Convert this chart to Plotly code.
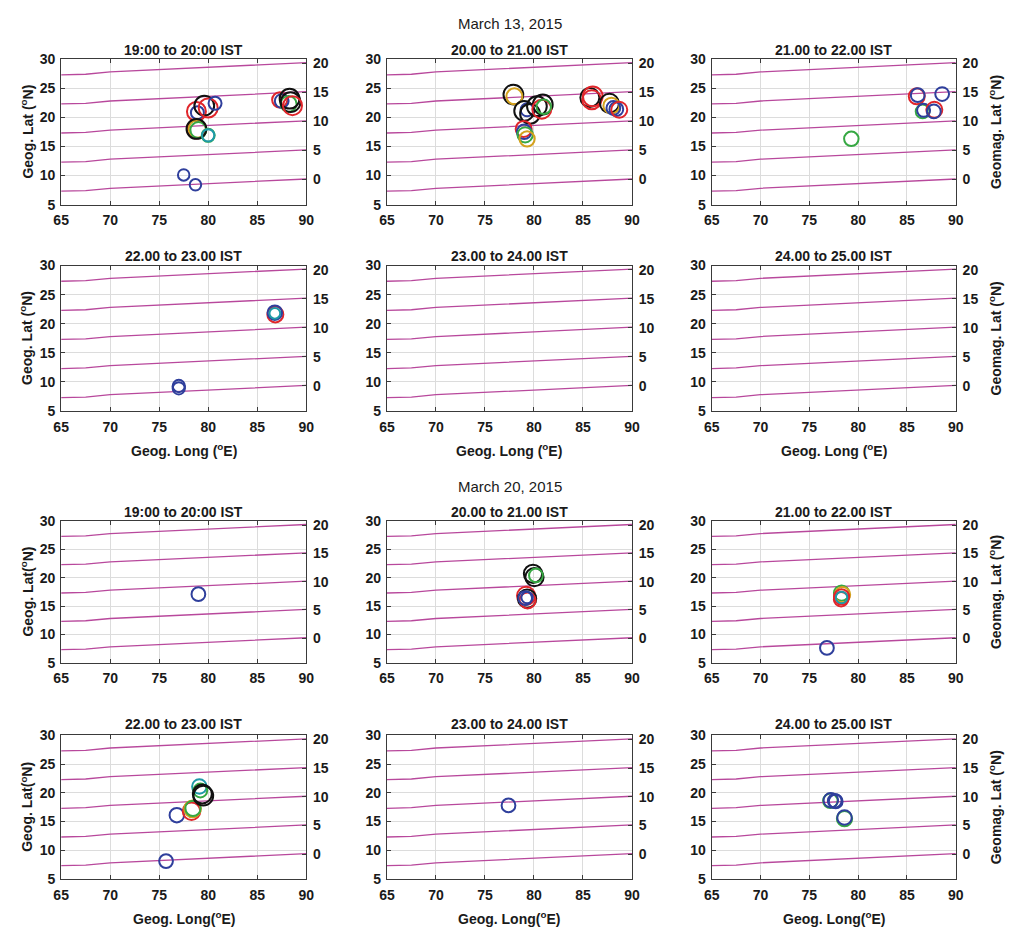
import plotly.graph_objects as go

# ---------------- data ----------------
# Geomagnetic latitude contours (drawn in geographic coordinates)
contour_lon = [65, 67.5, 70, 72.5, 75, 77.5, 80, 82.5, 85, 87.5, 90]
contour_offset = [7.3, 7.4, 7.8, 8.0, 8.3, 8.5, 8.7, 8.9, 9.1, 9.2, 9.4]  # geog lat of geomag 0
geomag_levels = [0, 5, 10, 15, 20]
geomag_axis_offset = 9.3  # geog lat corresponding to geomag 0 at the right edge

x_ticks = [65, 70, 75, 80, 85, 90]
y_ticks = [5, 10, 15, 20, 25, 30]
y2_ticks = [0, 5, 10, 15, 20]

panel_titles = ["19:00 to 20:00 IST", "20.00 to 21.00 IST", "21.00 to 22.00 IST",
                "22.00 to 23.00 IST", "23.00 to 24.00 IST", "24.00 to 25.00 IST"]
date_titles = ["March 13, 2015", "March 20, 2015"]

# Scintillation patches per panel: lon, lat, satellite group, S4
m13_h19_lon = [77.5, 78.7, 78.9, 78.8, 79.6, 80.0, 80.7, 78.8, 78.9, 79.0, 78.8, 80.0, 80.0, 87.3, 87.5, 88.2, 88.3, 88.4, 88.6]
m13_h19_lat = [10.1, 8.4, 20.8, 21.0, 22.0, 21.6, 22.4, 18.0, 18.0, 17.8, 18.0, 16.9, 16.9, 23.0, 22.8, 22.3, 23.2, 22.6, 22.0]
m13_h19_sat = ["B", "B", "B", "R", "K", "R", "B", "R", "Y", "G", "K", "G", "C", "R", "B", "G", "K", "K", "R"]
m13_h19_s4 = [0.3, 0.3, 0.4, 0.8, 0.85, 0.8, 0.4, 0.8, 0.7, 0.6, 0.85, 0.4, 0.35, 0.55, 0.45, 0.6, 0.85, 0.85, 0.8]

m13_h20_lon = [77.9, 78.0, 79.0, 79.3, 79.6, 80.3, 80.9, 80.8, 81.0, 78.95, 79.0, 79.1, 79.3, 85.7, 85.9, 86.0, 87.7, 87.9, 88.1, 88.4, 88.7]
m13_h20_lat = [23.9, 23.6, 21.1, 21.3, 20.6, 21.9, 22.2, 21.4, 21.8, 18.0, 17.5, 17.0, 16.3, 23.4, 23.0, 23.6, 22.4, 22.0, 21.6, 21.4, 21.3]
m13_h20_sat = ["K", "Y", "K", "B", "K", "K", "K", "R", "G", "R", "B", "G", "Y", "K", "R", "R", "K", "Y", "B", "B", "R"]
m13_h20_s4 = [0.85, 0.6, 0.85, 0.4, 0.85, 0.85, 0.85, 0.8, 0.5, 0.6, 0.5, 0.55, 0.55, 0.8, 0.8, 0.85, 0.8, 0.6, 0.45, 0.45, 0.6]

m13_h21_lon = [86.0, 86.1, 88.6, 86.6, 86.7, 87.8, 87.75, 79.3]
m13_h21_lat = [23.6, 23.8, 24.0, 21.0, 21.2, 21.3, 21.0, 16.3]
m13_h21_sat = ["R", "B", "B", "G", "B", "R", "B", "G"]
m13_h21_s4 = [0.6, 0.45, 0.45, 0.45, 0.4, 0.6, 0.45, 0.5]

m13_h22_lon = [86.85, 86.8, 86.8, 77.0, 77.0]
m13_h22_lat = [21.6, 21.9, 21.8, 9.3, 8.9]
m13_h22_sat = ["R", "B", "C", "B", "B"]
m13_h22_s4 = [0.6, 0.5, 0.25, 0.35, 0.35]

m13_h23_lon, m13_h23_lat, m13_h23_sat, m13_h23_s4 = [], [], [], []
m13_h24_lon, m13_h24_lat, m13_h24_sat, m13_h24_s4 = [], [], [], []

m20_h19_lon = [79.0]
m20_h19_lat = [17.1]
m20_h19_sat = ["B"]
m20_h19_s4 = [0.45]

m20_h20_lon = [79.9, 80.05, 80.2, 79.2, 79.3, 79.35, 79.1, 79.3]
m20_h20_lat = [20.7, 20.1, 20.4, 16.8, 16.3, 16.0, 16.4, 16.5]
m20_h20_sat = ["K", "K", "G", "R", "K", "R", "B", "B"]
m20_h20_s4 = [0.75, 0.75, 0.45, 0.75, 0.75, 0.6, 0.45, 0.3]

m20_h21_lon = [78.3, 78.4, 78.3, 78.25, 78.3, 76.8]
m20_h21_lat = [17.3, 17.0, 16.6, 16.2, 16.5, 7.6]
m20_h21_sat = ["G", "Y", "R", "R", "C", "B"]
m20_h21_s4 = [0.55, 0.55, 0.55, 0.5, 0.3, 0.45]

m20_h22_lon = [75.7, 76.8, 78.3, 78.4, 78.45, 79.1, 79.2, 79.4, 79.5]
m20_h22_lat = [8.1, 16.1, 16.8, 17.2, 17.3, 21.1, 20.4, 19.8, 19.5]
m20_h22_sat = ["B", "B", "R", "Y", "G", "C", "G", "K", "K"]
m20_h22_s4 = [0.45, 0.5, 0.7, 0.65, 0.55, 0.5, 0.45, 0.8, 0.85]

m20_h23_lon = [77.4]
m20_h23_lat = [17.8]
m20_h23_sat = ["B"]
m20_h23_s4 = [0.45]

m20_h24_lon = [77.15, 77.2, 77.6, 77.7, 78.6, 78.6]
m20_h24_lat = [18.6, 18.7, 18.6, 18.5, 15.5, 15.7]
m20_h24_sat = ["G", "B", "B", "B", "G", "B"]
m20_h24_s4 = [0.5, 0.5, 0.45, 0.45, 0.55, 0.5]

panels = [
    (m13_h19_lon, m13_h19_lat, m13_h19_sat, m13_h19_s4),
    (m13_h20_lon, m13_h20_lat, m13_h20_sat, m13_h20_s4),
    (m13_h21_lon, m13_h21_lat, m13_h21_sat, m13_h21_s4),
    (m13_h22_lon, m13_h22_lat, m13_h22_sat, m13_h22_s4),
    (m13_h23_lon, m13_h23_lat, m13_h23_sat, m13_h23_s4),
    (m13_h24_lon, m13_h24_lat, m13_h24_sat, m13_h24_s4),
    (m20_h19_lon, m20_h19_lat, m20_h19_sat, m20_h19_s4),
    (m20_h20_lon, m20_h20_lat, m20_h20_sat, m20_h20_s4),
    (m20_h21_lon, m20_h21_lat, m20_h21_sat, m20_h21_s4),
    (m20_h22_lon, m20_h22_lat, m20_h22_sat, m20_h22_s4),
    (m20_h23_lon, m20_h23_lat, m20_h23_sat, m20_h23_s4),
    (m20_h24_lon, m20_h24_lat, m20_h24_sat, m20_h24_s4),
]

# ---------------- style ----------------
SAT_COLORS = {"B": "#2f3f9c", "R": "#e0262b", "G": "#36a843", "K": "#111111",
              "Y": "#d4a21e", "C": "#1e9aa8"}
LINE_COLOR = "#b8489c"
W, H = 1014, 939
FONT = "Liberation Sans, Arial, sans-serif"
TXT = "#1a1a1a"

col_px = [(54, 303), (385, 634), (715, 963)]
row_px = [(52, 200), (262, 410), (522, 666), (740, 886)]


def fx(px):
    return px / W


def fy(py):
    return 1 - py / H


fig = go.Figure()
layout = {}
annotations = []

for i, (lon, lat, sat, s4) in enumerate(panels):
    r, c = divmod(i, 3)
    xn = i + 1
    yn1 = 2 * i + 1
    yn2 = 2 * i + 2
    xref = "x" if xn == 1 else f"x{xn}"
    yref1 = "y" if yn1 == 1 else f"y{yn1}"
    yref2 = f"y{yn2}"
    xkey = "xaxis" if xn == 1 else f"xaxis{xn}"
    ykey1 = "yaxis" if yn1 == 1 else f"yaxis{yn1}"
    ykey2 = f"yaxis{yn2}"

    x0, x1 = col_px[c]
    y0, y1 = row_px[r]

    tickfont = dict(family=FONT, size=14, color=TXT, weight="bold")
    layout[xkey] = dict(domain=[fx(x0), fx(x1)], anchor=yref1, range=[65, 90],
                        tickvals=x_ticks, showgrid=True, gridcolor="#dcdcdc", gridwidth=1,
                        zeroline=False, showline=True, linecolor="#3a3a3a", linewidth=1,
                        mirror="ticks", ticks="inside", ticklen=4, tickcolor="#3a3a3a",
                        tickfont=tickfont, ticklabelstandoff=3, fixedrange=True)
    layout[ykey1] = dict(domain=[fy(y1), fy(y0)], anchor=xref, range=[5, 30],
                         tickvals=y_ticks, showgrid=True, gridcolor="#dcdcdc", gridwidth=1,
                         zeroline=False, showline=True, linecolor="#3a3a3a", linewidth=1,
                         mirror=True, ticks="inside", ticklen=4, tickcolor="#3a3a3a",
                         tickfont=tickfont, ticklabelstandoff=2, fixedrange=True)
    layout[ykey2] = dict(overlaying=yref1, anchor=xref, side="right",
                         range=[5 - geomag_axis_offset, 30 - geomag_axis_offset],
                         tickvals=y2_ticks, showgrid=False, zeroline=False,
                         showline=True, linecolor="#3a3a3a", linewidth=1,
                         ticks="inside", ticklen=4, tickcolor="#3a3a3a",
                         tickfont=tickfont, ticklabelstandoff=3, fixedrange=True)

    # geomagnetic latitude contours
    for lev in geomag_levels:
        fig.add_trace(go.Scatter(x=contour_lon, y=[lev + o for o in contour_offset],
                                 mode="lines", line=dict(color=LINE_COLOR, width=1.3),
                                 xaxis=xref, yaxis=yref1, showlegend=False, hoverinfo="skip"))
    # keep right axis alive
    fig.add_trace(go.Scatter(x=[None], y=[None], xaxis=xref, yaxis=yref2,
                             showlegend=False, hoverinfo="skip"))
    # scintillation patches
    if lon:
        cols = [SAT_COLORS[s] for s in sat]
        sizes = [7 + 15 * v for v in s4]
        fig.add_trace(go.Scatter(x=lon, y=lat, mode="markers", xaxis=xref, yaxis=yref1,
                                 marker=dict(symbol="circle-open", color=cols, size=sizes,
                                             opacity=1, line=dict(width=2.0)),
                                 showlegend=False))

    # panel title
    title_y = [43, 252, 513, 728][r]
    annotations.append(dict(text=panel_titles[i % 6], x=fx((x0 + x1) / 2), y=fy(title_y),
                            xref="paper", yref="paper", showarrow=False, xanchor="center",
                            yanchor="middle", font=dict(family=FONT, size=14, color=TXT, weight="bold")))
    # left y title
    if c == 0:
        ttl = "Geog. Lat (<sup>o</sup>N)" if r < 2 else "Geog. Lat(<sup>o</sup>N)"
        annotations.append(dict(text=ttl, x=fx(19), y=fy((y0 + y1) / 2), xref="paper",
                                yref="paper", showarrow=False, textangle=-90,
                                xanchor="center", yanchor="middle",
                                font=dict(family=FONT, size=14, color=TXT, weight="bold")))
    if c == 2:
        annotations.append(dict(text="Geomag. Lat (<sup>o</sup>N)", x=fx(1003), y=fy((y0 + y1) / 2),
                                xref="paper", yref="paper", showarrow=False, textangle=-90,
                                xanchor="center", yanchor="middle",
                                font=dict(family=FONT, size=14, color=TXT, weight="bold")))
    if r in (1, 3):
        ttl = "Geog. Long (<sup>o</sup>E)" if r == 1 else "Geog. Long(<sup>o</sup>E)"
        annotations.append(dict(text=ttl, x=fx((x0 + x1) / 2), y=fy(y1 + 40), xref="paper",
                                yref="paper", showarrow=False, xanchor="center", yanchor="middle",
                                font=dict(family=FONT, size=14, color=TXT, weight="bold")))

for k, (txt, py) in enumerate(zip(date_titles, [16, 487])):
    annotations.append(dict(text=txt, x=fx(510), y=fy(py), xref="paper", yref="paper",
                            showarrow=False, xanchor="center", yanchor="middle",
                            font=dict(family=FONT, size=15, color=TXT)))

fig.update_layout(width=W, height=H, margin=dict(l=0, r=0, t=0, b=0),
                  paper_bgcolor="white", plot_bgcolor="white", showlegend=False,
                  annotations=annotations, **layout)

fig.write_html("out.html")
